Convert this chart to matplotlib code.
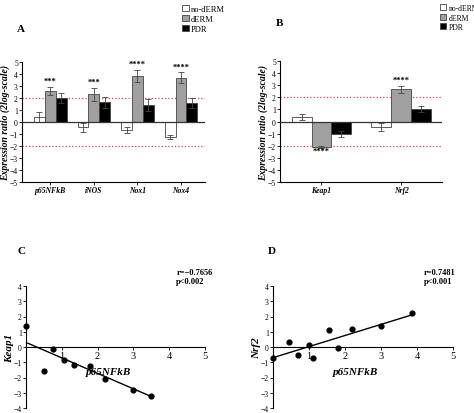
import matplotlib.pyplot as plt
import numpy as np
from matplotlib.patches import Patch

series = ['no-dERM', 'dERM', 'PDR']
colors = ['white', '#a0a0a0', 'black']
catA = ['p65NFkB', 'iNOS', 'Nox1', 'Nox4']
valA = [[0.4, -0.45, -0.65, -1.25], [2.6, 2.3, 3.85, 3.7], [2.0, 1.65, 1.45, 1.6]]
errA = [[0.4, 0.35, 0.25, 0.15], [0.35, 0.55, 0.5, 0.45], [0.4, 0.45, 0.5, 0.4]]
starsA = ['***', '***', '****', '****']
catB = ['Keap1', 'Nrf2']
valB = [[0.35, -0.45], [-2.1, 2.65], [-1.0, 1.05]]
errB = [[0.25, 0.3], [0.1, 0.3], [0.25, 0.25]]
starsB = ['****', '****']
cx = [0.0, 0.5, 0.75, 1.05, 1.35, 1.8, 2.2, 3.0, 3.5]
cy = [1.4, -1.6, -0.1, -0.85, -1.15, -1.25, -2.1, -2.8, -3.2]
dx = [0.0, 0.45, 0.7, 1.0, 1.1, 1.55, 1.8, 2.2, 3.0, 3.85]
dy = [-0.7, 0.3, -0.5, 0.1, -0.7, 1.1, -0.05, 1.15, 1.35, 2.2]

W, H = 474, 414
fig = plt.figure(figsize=(4.74, 4.14), dpi=100)
plt.rcParams['font.family'] = 'Liberation Serif'

def ax_px(l, t, r, b):
    return fig.add_axes([l / W, 1 - b / H, (r - l) / W, (b - t) / H])

def style(ax):
    for s in ['top', 'right']:
        ax.spines[s].set_visible(False)
    ax.tick_params(labelsize=5.5, length=2, width=0.6, pad=1)
    for s in ['left', 'bottom']:
        ax.spines[s].set_linewidth(0.8)

def bars(ax, cats, vals, errs, stars, xlim):
    x = np.arange(len(cats))
    w = 0.25
    for i in range(3):
        ax.bar(x + (i - 1) * w, vals[i], w, color=colors[i], edgecolor='#444', lw=0.6,
               yerr=errs[i], error_kw=dict(lw=0.6, capsize=2, capthick=0.6, ecolor='#444'), zorder=2)
    for j, s in enumerate(stars):
        v, e = vals[1][j], errs[1][j]
        yy = v + e + 0.15 if v > 0 else v - e - 0.55
        ax.text(x[j], yy, s, ha='center', va='bottom', fontsize=6, fontweight='bold')
    ax.axhline(0, color='#333', lw=0.9, zorder=3)
    for h in [2, -2]:
        ax.axhline(h, color='#e04050', ls=':', lw=0.9, zorder=1)
    ax.set_ylim(-5, 5)
    ax.set_yticks(range(-5, 6))
    ax.set_xlim(*xlim)
    ax.set_xticks(x)
    ax.set_xticklabels(cats, fontsize=7, fontstyle='italic', fontweight='bold')
    ax.tick_params(axis='x', length=0, pad=3)
    ax.set_ylabel('Expression ratio (2log-scale)', fontsize=7, fontstyle='italic', fontweight='bold', labelpad=0)
    style(ax)

axA = ax_px(22, 63, 205, 183)
bars(axA, catA, valA, errA, starsA, (-0.65, 3.55))
axB = ax_px(280, 62, 442, 183)
bars(axB, catB, valB, errB, starsB, (-0.52, 1.51))

for (lx, ly, fs) in [(182, 6, 6), (440, 5, 5.5)]:
    handles = [Patch(facecolor=c, edgecolor='#444', lw=0.6) for c in colors]
    fig.legend(handles, series, loc='upper left', bbox_to_anchor=(lx / W, 1 - ly / H),
               frameon=False, fontsize=fs, handlelength=0.8, handleheight=0.8,
               handletextpad=0.3, labelspacing=0.2, borderpad=0, borderaxespad=0)

fig.text(17 / W, 1 - 29 / H, 'A', fontsize=8, fontweight='bold', va='center')
fig.text(276 / W, 1 - 24 / H, 'B', fontsize=8, fontweight='bold', va='center')
fig.text(17 / W, 1 - 252 / H, 'C', fontsize=8, fontweight='bold', va='center')
fig.text(268 / W, 1 - 252 / H, 'D', fontsize=8, fontweight='bold', va='center')

def scat(ax, x, y, ylabel, rtxt, l0, l1):
    ax.scatter(x, y, s=12, color='black', zorder=3, clip_on=False)
    ax.plot([l0[0], l1[0]], [l0[1], l1[1]], color='black', lw=1)
    ax.spines['bottom'].set_position(('data', 0))
    ax.set_xlim(0, 5)
    ax.set_ylim(-4, 4)
    ax.set_xticks([1, 2, 3, 4, 5])
    ax.set_yticks(range(-4, 5))
    style(ax)
    ax.tick_params(axis='x', labelsize=7.5)
    ax.set_ylabel(ylabel, fontsize=8, fontstyle='italic', fontweight='bold', labelpad=0)
    ax.text(2.3, -1.75, 'p65NFkB', fontsize=8, fontstyle='italic', fontweight='bold', ha='center')
    ax.text(4.2, 4.6, rtxt, fontsize=6, fontweight='bold', va='center')

axC = ax_px(26, 287, 205, 409)
scat(axC, cx, cy, 'Keap1', 'r=\u22120.7656\np<0.002', (0.05, 0.25), (3.5, -3.25))
axD = ax_px(273, 287, 453, 409)
scat(axD, dx, dy, 'Nrf2', 'r=0.7481\np<0.001', (0.0, -0.7), (3.85, 2.1))

fig.savefig('out.png', dpi=100)
